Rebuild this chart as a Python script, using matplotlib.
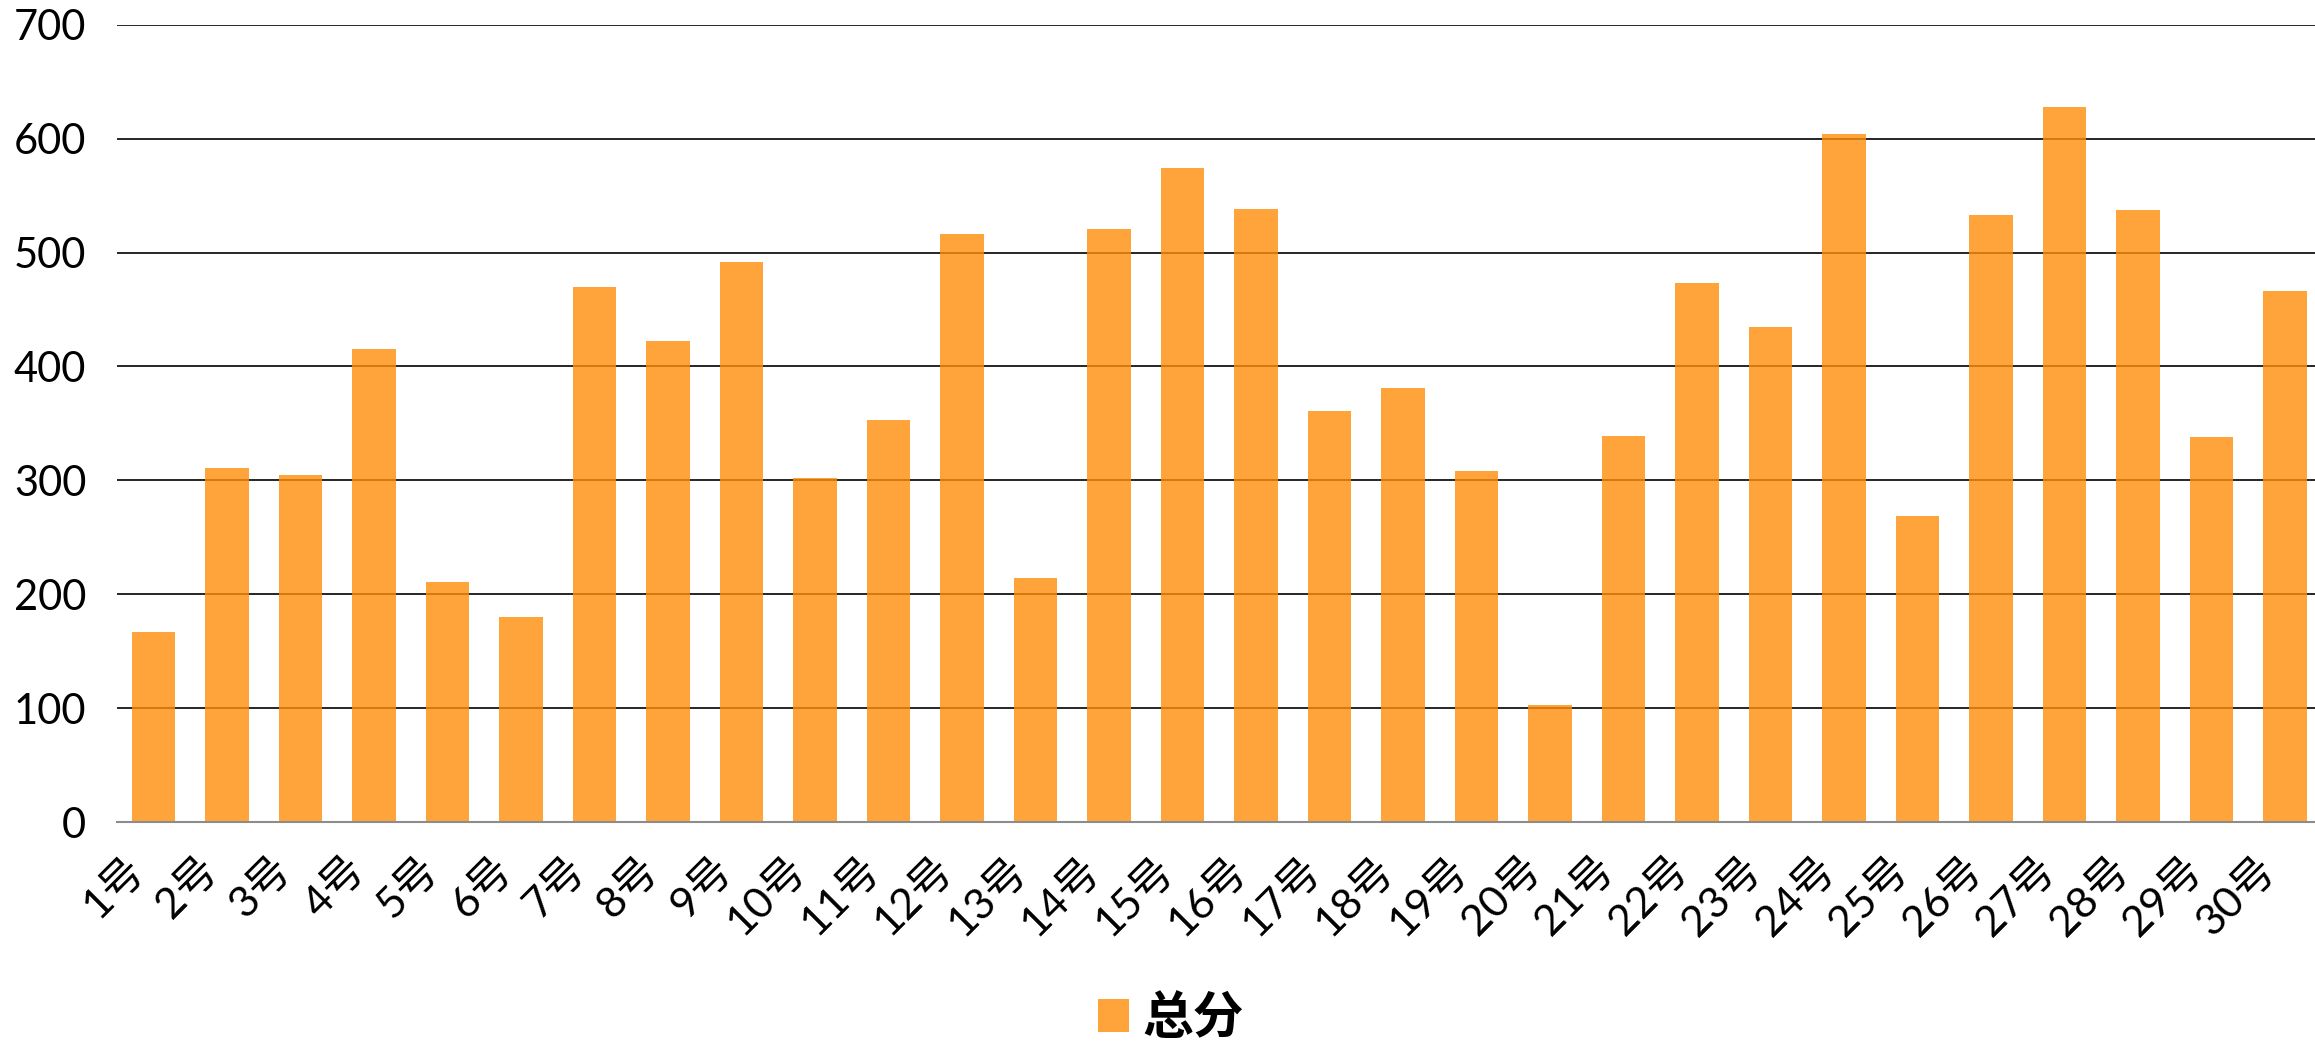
import matplotlib
matplotlib.use("Agg")
import matplotlib.pyplot as plt
from matplotlib.transforms import ScaledTranslation

categories = [f"{i}号" for i in range(1, 31)]
totals = [167, 311, 305, 415, 211, 180, 470, 422, 492, 302,
          353, 516, 214, 521, 574, 538, 361, 381, 308, 103,
          339, 473, 435, 604, 269, 533, 628, 537, 338, 466]
series_name = "总分"
yticks = [0, 100, 200, 300, 400, 500, 600, 700]

plt.rcParams['font.family'] = ['Lato', 'Noto Sans CJK SC', 'DejaVu Sans']

W, H, DPI = 2315, 1044, 100
fig = plt.figure(figsize=(W / DPI, H / DPI), dpi=DPI)
left = 116.75 / W
right = (116.75 + 30 * 73.5) / W
bottom = 1 - 822 / H
top = 1 - 24.7 / H
ax = fig.add_axes([left, bottom, right - left, top - bottom])

x = list(range(len(categories)))
bars = ax.bar(x, totals, width=0.59, color=(1.0, 0.557, 0.035), alpha=0.8,
              label=series_name, zorder=2)

ax.set_xlim(-0.5, len(categories) - 0.5)
ax.set_ylim(0, 700)
ax.set_yticks(yticks)
ax.set_yticklabels([str(v) for v in yticks])
ax.yaxis.grid(True, color='#262626', linewidth=1.4, zorder=0)
ax.set_axisbelow(True)

for s in ['top', 'right', 'left']:
    ax.spines[s].set_visible(False)
ax.spines['bottom'].set_color('#8c8c8c')
ax.spines['bottom'].set_linewidth(1.5)
ax.spines['bottom'].set_zorder(3)

ax.tick_params(axis='y', length=0, pad=22, labelsize=30, colors='black')
ax.tick_params(axis='x', length=0, pad=20, labelsize=31, colors='black')
ax.set_xticks(x)
ax.set_xticklabels(categories, rotation=45, ha='right', va='top')
off = ScaledTranslation(-2 / DPI, 0, fig.dpi_scale_trans)
for lab in ax.get_xticklabels():
    lab.set_transform(lab.get_transform() + off)

leg = fig.legend(handles=[bars], labels=[series_name], loc='center',
                 bbox_to_anchor=(1171 / W, 1 - 1019 / H), frameon=False,
                 prop={'family': ['Noto Sans CJK SC'], 'weight': 'bold', 'size': 36.5},
                 handlelength=0.61, handleheight=0.61, handletextpad=0.27,
                 borderpad=0, borderaxespad=0)

fig.savefig("out.png", dpi=DPI)
